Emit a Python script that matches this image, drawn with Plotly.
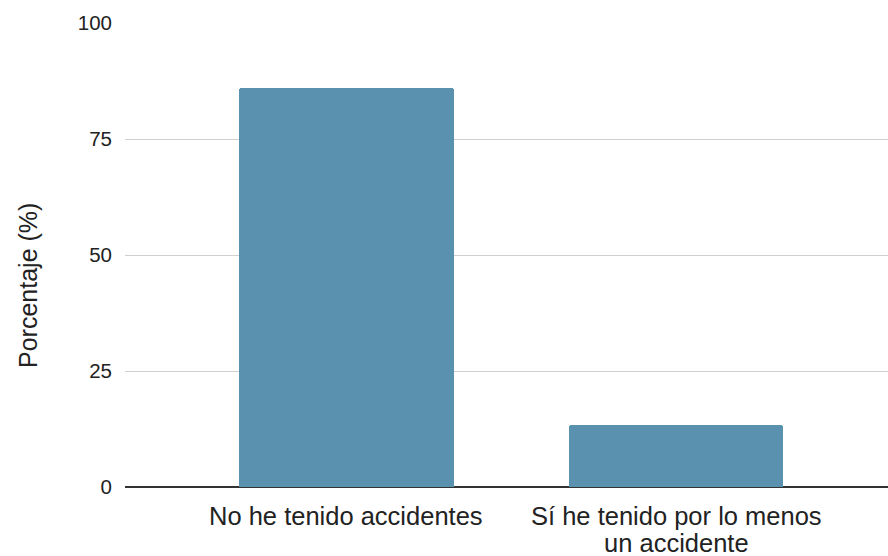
import plotly.graph_objects as go

categories = ["No he tenido accidentes", "Sí he tenido por lo menos<br>un accidente"]
values = [86.1, 13.4]
y_ticks = [0, 25, 50, 75, 100]
y_title = "Porcentaje (%)"

fig = go.Figure()
fig.add_trace(go.Bar(
    x=list(range(len(categories))),
    y=values,
    width=0.649,
    marker=dict(color="#5a91ae", line=dict(width=0), cornerradius=3),
    hoverinfo="skip",
))

# category labels, one annotation per text line (tight line spacing as in reference)
line_gap = 27
for i, label in enumerate(categories):
    for k, line in enumerate(label.split("<br>")):
        fig.add_annotation(
            x=i, y=0, xref="x", yref="y",
            text=line, showarrow=False,
            xanchor="center", yanchor="middle",
            yshift=-29 - k * line_gap,
            font=dict(size=25.5, color="#222222"),
        )

# y-axis title (placed lower than plot centre, as in the reference)
fig.add_annotation(
    x=-0.128, y=0.434, xref="paper", yref="paper",
    text=y_title, textangle=-90, showarrow=False,
    xanchor="center", yanchor="middle",
    font=dict(size=25, color="#222222"),
)

fig.update_layout(
    width=888, height=556,
    margin=dict(l=125, r=0, t=23, b=69),
    paper_bgcolor="white",
    plot_bgcolor="white",
    font=dict(family="Liberation Sans, Arial, sans-serif", color="#222222"),
    showlegend=False,
    bargap=0,
)
fig.update_xaxes(
    range=[-0.6716, 1.642],
    tickmode="array",
    tickvals=list(range(len(categories))),
    showticklabels=False,
    showgrid=False,
    zeroline=False,
    showline=False,
    ticks="",
    automargin=False,
)
fig.update_yaxes(
    range=[0, 100],
    tickmode="array",
    tickvals=y_ticks,
    tickfont=dict(size=20.5),
    showgrid=True,
    gridcolor="#cfcfcf",
    gridwidth=1,
    zeroline=True,
    zerolinecolor="#333333",
    zerolinewidth=1.5,
    ticks="",
    ticklabelstandoff=12,
    automargin=False,
)

fig.write_html(
    "out.html",
    config={"displayModeBar": False},
    post_script="document.body.style.margin='0';document.body.style.overflow='hidden';",
)
